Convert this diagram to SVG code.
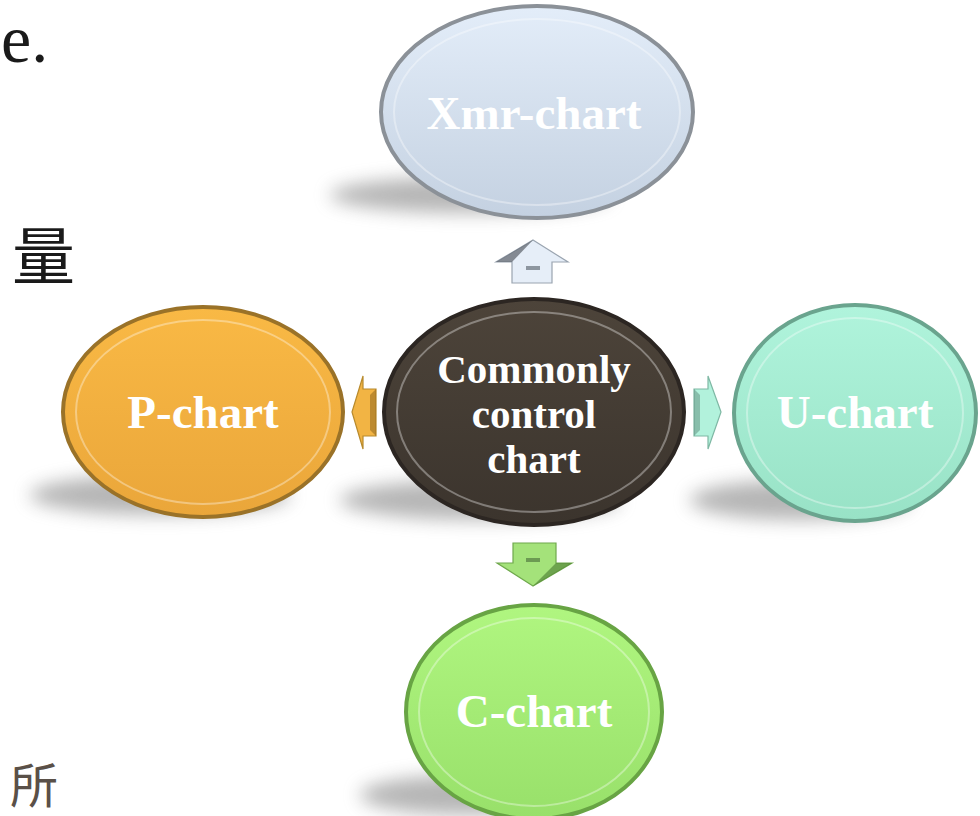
<svg xmlns="http://www.w3.org/2000/svg" width="980" height="816" viewBox="0 0 980 816">
<style>
.lbl{font-family:"Liberation Serif","Times New Roman",serif;font-weight:bold;fill:#ffffff;text-anchor:middle;}
.big{font-size:47px;}
.mid{font-size:41px;}
.ser{font-family:"Liberation Serif","Times New Roman",serif;}
.cjk{font-family:"Noto Sans CJK TC","Noto Sans CJK SC",sans-serif;}
.rim{fill:none;stroke:#ffffff;stroke-opacity:0.35;stroke-width:2;}
</style>
<defs>
<filter id="blur" x="-30%" y="-100%" width="160%" height="300%"><feGaussianBlur stdDeviation="9"/></filter>
<linearGradient id="gX" x1="0" y1="0" x2="0" y2="1"><stop offset="0" stop-color="#e3edf9"/><stop offset="1" stop-color="#c4d1e1"/></linearGradient>
<linearGradient id="gM" x1="0" y1="0" x2="0" y2="1"><stop offset="0" stop-color="#4d443a"/><stop offset="1" stop-color="#3b342d"/></linearGradient>
<linearGradient id="gP" x1="0" y1="0" x2="0" y2="1"><stop offset="0" stop-color="#f9b945"/><stop offset="1" stop-color="#eaa63a"/></linearGradient>
<linearGradient id="gU" x1="0" y1="0" x2="0" y2="1"><stop offset="0" stop-color="#b0f4dc"/><stop offset="1" stop-color="#98e2c6"/></linearGradient>
<linearGradient id="gC" x1="0" y1="0" x2="0" y2="1"><stop offset="0" stop-color="#b0f680"/><stop offset="1" stop-color="#98e06a"/></linearGradient>
</defs>

<g id="background-text">
<text x="1" y="62" class="ser" font-size="68" fill="#1a1a1a">e.</text>
<text x="12" y="279" class="cjk" font-size="63" fill="#1a1a1a">量</text>
<text x="10" y="803" class="cjk" font-size="48" fill="#5a5048">所</text>
</g>

<g id="shadows" filter="url(#blur)" fill="#7a7a7a" opacity="0.55">
<ellipse cx="470" cy="195" rx="140" ry="18"/>
<ellipse cx="160" cy="495" rx="130" ry="20"/>
<ellipse cx="480" cy="500" rx="140" ry="20"/>
<ellipse cx="800" cy="500" rx="110" ry="20"/>
<ellipse cx="470" cy="795" rx="110" ry="20"/>
</g>

<g id="connectors">
<g id="arrow-up">
<polygon points="533,240 568,262 552,262 552,283 512,283 512,262 496,262" fill="#e6eef8" stroke="#9aa4b0" stroke-width="1.2"/>
<polygon points="533,240 496,262 512,262" fill="#5a6068" opacity="0.7"/>
<rect x="526" y="266" width="14" height="4" fill="#8d96a0"/>
</g>
<g id="arrow-left">
<polygon points="352,412 363,376 363,389 376,389 376,436 363,436 363,449" fill="#f2b444" stroke="#b88a2c" stroke-width="1.2"/>
<polygon points="376,389 376,436 370,430 370,395" fill="#9a6e22" opacity="0.6"/>
</g>
<g id="arrow-right">
<polygon points="721,412 708,376 708,389 694,389 694,436 708,436 708,449" fill="#b2f2dc" stroke="#7fb8a4" stroke-width="1.2"/>
<polygon points="694,389 694,436 700,430 700,395" fill="#5e8a7a" opacity="0.5"/>
</g>
<g id="arrow-down">
<polygon points="533,586 497,563 513,563 513,543 556,543 556,563 572,563" fill="#a4e27a" stroke="#6fa84c" stroke-width="1.2"/>
<polygon points="533,586 572,563 556,563" fill="#4a7a30" opacity="0.6"/>
<rect x="526" y="558" width="14" height="4" fill="#6c9a52"/>
</g>
</g>

<g id="node-xmr">
<ellipse cx="537" cy="112" rx="156" ry="106" fill="url(#gX)" stroke="#8b9198" stroke-width="4"/>
<ellipse cx="537" cy="112" rx="143" ry="93" class="rim"/>
<text x="534" y="129" class="lbl big">Xmr-chart</text>
</g>

<g id="node-center">
<ellipse cx="534" cy="412" rx="150" ry="113" fill="url(#gM)" stroke="#2c2622" stroke-width="4"/>
<ellipse cx="534" cy="412" rx="137" ry="100" class="rim" stroke-opacity="0.15"/>
<text x="534" y="383" class="lbl mid">Commonly</text>
<text x="534" y="428" class="lbl mid">control</text>
<text x="534" y="473" class="lbl mid">chart</text>
</g>

<g id="node-p">
<ellipse cx="203" cy="412" rx="140" ry="105" fill="url(#gP)" stroke="#9a7228" stroke-width="4"/>
<ellipse cx="203" cy="412" rx="127" ry="92" class="rim"/>
<text x="203" y="428" class="lbl big">P-chart</text>
</g>

<g id="node-u">
<ellipse cx="855" cy="413" rx="121" ry="108" fill="url(#gU)" stroke="#6aa48e" stroke-width="4"/>
<ellipse cx="855" cy="413" rx="108" ry="95" class="rim"/>
<text x="855" y="428" class="lbl big">U-chart</text>
</g>

<g id="node-c">
<ellipse cx="534" cy="712" rx="128" ry="107" fill="url(#gC)" stroke="#68a444" stroke-width="4"/>
<ellipse cx="534" cy="712" rx="115" ry="94" class="rim"/>
<text x="534" y="727" class="lbl big">C-chart</text>
</g>
</svg>
